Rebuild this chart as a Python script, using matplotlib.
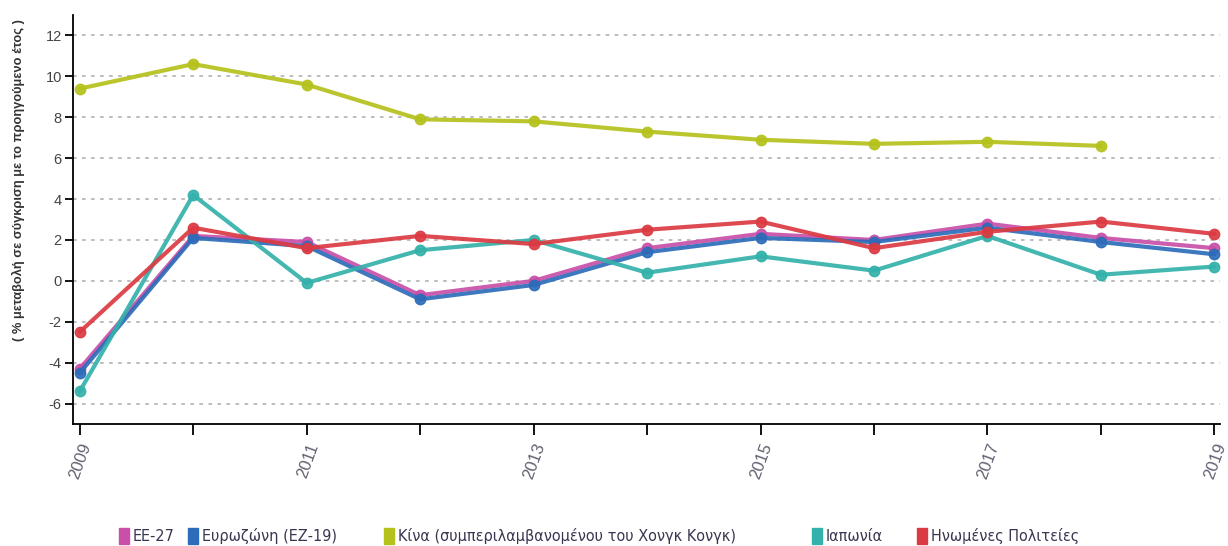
import matplotlib.pyplot as plt
from matplotlib.patches import Rectangle

plt.rcParams['font.family'] = ['Liberation Sans', 'DejaVu Sans']
plt.rcParams['axes.unicode_minus'] = False

years = [2009, 2010, 2011, 2012, 2013, 2014, 2015, 2016, 2017, 2018, 2019]
ee27 = [-4.3, 2.2, 1.9, -0.7, 0.0, 1.6, 2.3, 2.0, 2.8, 2.1, 1.6]
ez19 = [-4.5, 2.1, 1.7, -0.9, -0.2, 1.4, 2.1, 1.9, 2.6, 1.9, 1.3]
china = [9.4, 10.6, 9.6, 7.9, 7.8, 7.3, 6.9, 6.7, 6.8, 6.6]
japan = [-5.4, 4.2, -0.1, 1.5, 2.0, 0.4, 1.2, 0.5, 2.2, 0.3, 0.7]
usa = [-2.5, 2.6, 1.6, 2.2, 1.8, 2.5, 2.9, 1.6, 2.4, 2.9, 2.3]

names = ['ΕΕ-27', 'Ευρωζώνη (ΕΖ-19)', 'Κίνα (συμπεριλαμβανομένου του Χονγκ Κονγκ)',
         'Ιαπωνία', 'Ηνωμένες Πολιτείες']
colors = ['#c94fa8', '#2d6cb9', '#b5c21c', '#33b1aa', '#dc3a42']
series = [ee27, ez19, china, japan, usa]

fig = plt.figure(figsize=(12.28, 5.46), dpi=100)
ax = fig.add_axes([0.0594, 0.2234, 0.9341, 0.7491])

for vals, c in zip(series, colors):
    ax.plot(years[:len(vals)], vals, color=c, lw=3, marker='o', ms=7.5,
            alpha=0.92, solid_capstyle='round', solid_joinstyle='round')

ax.set_xlim(2008.94, 2019.05)
ax.set_ylim(-7, 13)
ax.set_yticks(range(-6, 13, 2))
ax.set_xticks(years)
ax.set_xticklabels([str(y) if y % 2 == 1 else '' for y in years],
                   rotation=70, ha='right', va='top', rotation_mode='anchor')
ax.tick_params(axis='y', length=6, width=1.3, labelsize=10.5, labelcolor='#444444', pad=2)
ax.tick_params(axis='x', length=8, width=1.3, labelsize=12, labelcolor='#606070', pad=4)
for s in ['top', 'right']:
    ax.spines[s].set_visible(False)
for s in ['left', 'bottom']:
    ax.spines[s].set_linewidth(1.3)
ax.yaxis.grid(True, linestyle=(0, (2, 3)), color='#b8b8b8', lw=1.3)
ax.set_axisbelow(True)

fig.text(0.0147, 0.67, '( % μεταβολή σε σύγκριση με το προηγούμενο έτος )',
         rotation=90, ha='center', va='center', fontsize=9.3, fontweight='bold',
         color='#333333')

# legend along the bottom
leg_x = [0.0969, 0.1531, 0.3127, 0.6612, 0.7467]
for x, name, c in zip(leg_x, names, colors):
    fig.patches.append(Rectangle((x, 0.004), 0.0081, 0.029, transform=fig.transFigure,
                                 color=c, figure=fig))
    fig.text(x + 0.0115, 0.018, name, ha='left', va='center', fontsize=11.6,
             color='#3a3650', family='DejaVu Sans', stretch='condensed')

fig.savefig('out.png', dpi=100)
